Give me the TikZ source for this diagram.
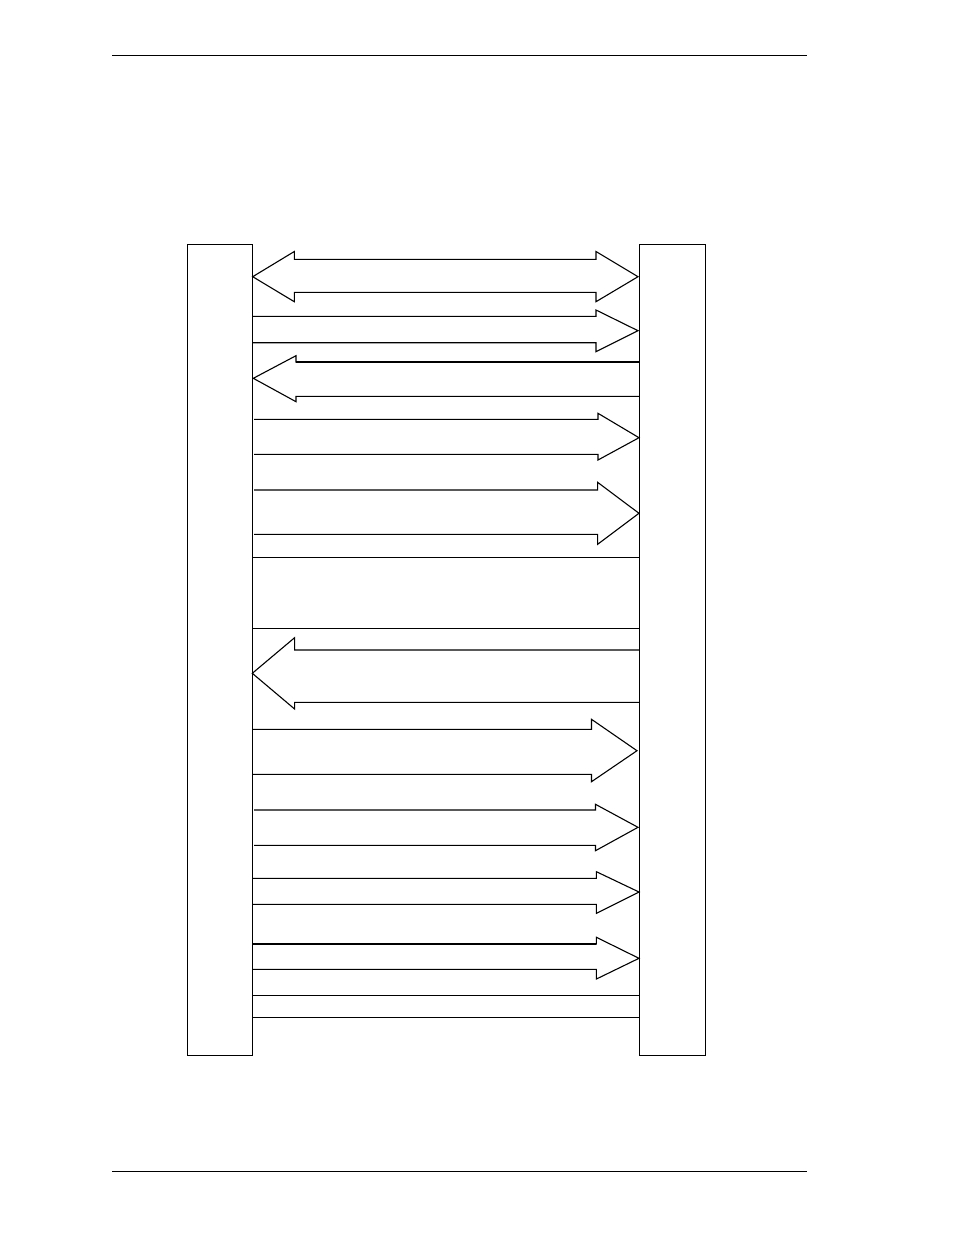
\documentclass[tikz,border=0pt]{standalone}
\begin{document}
\begin{tikzpicture}[x=1pt,y=-1pt,
  thin line/.style={line width=1.1pt, line join=miter},
  heavy line/.style={line width=2pt},
  boxnode/.style={draw, line width=1.1pt, inner sep=0pt, anchor=north west},
  rule/.style={line width=1.3pt}]
\useasboundingbox (0,0) rectangle (954,1235);
% page rules
\coordinate (r1a) at (112,55.3); \coordinate (r1b) at (806.5,55.3);
\coordinate (r2a) at (112,1171.3); \coordinate (r2b) at (806.5,1171.3);
\draw[rule] (r1a) -- (r1b);
\draw[rule] (r2a) -- (r2b);
% boxes
\node[boxnode, minimum width=65.8pt, minimum height=811.8pt] (L) at (186.5,243.5) {};
\node[boxnode, minimum width=66pt, minimum height=811pt] (R) at (639.3,244.3) {};
% macros for arrows
\newcommand\ArrRight[8]{% x0, shaft top, shaft bottom, base, head top, head bottom, tip x, tip y
  \draw[thin line] (#1,#2) -- (#4,#2) -- (#4,#5) -- (#7,#8) -- (#4,#6) -- (#4,#3) -- (#1,#3);}
\newcommand\ArrLeft[8]{% x0, shaft top, shaft bottom, base, head top, head bottom, tip x, tip y
  \draw[thin line] (#1,#2) -- (#4,#2) -- (#4,#5) -- (#7,#8) -- (#4,#6) -- (#4,#3) -- (#1,#3);}
% 1 double arrow
\draw[thin line] (294.3,259.3) -- (596,259.3) -- (596,251.5) -- (638,276.7) -- (596,301.7)
  -- (596,292.3) -- (294.3,292.3) -- (294.3,301.7) -- (252.7,276.7) -- (294.3,251.5) -- cycle;
% 2
\ArrRight{252.3}{316.3}{342.7}{596}{310}{351.7}{638}{330.7}
% 3
\ArrLeft{639.3}{362}{396.3}{296}{355.7}{401.7}{253.3}{378.3}
\draw[heavy line] (296,362) -- (639.3,362);
% 4
\ArrRight{254}{419.3}{454.3}{598}{413.3}{460}{639}{437.7}
% 5
\ArrRight{254}{490}{534.3}{597.6}{482.3}{544.3}{639}{513.3}
% plain lines
\draw[thin line] (252.3,557.5) -- (639.3,557.5);
\draw[thin line] (252.3,628.3) -- (639.3,628.3);
% 7
\ArrLeft{639.3}{650}{702.3}{294.6}{637.7}{709}{252.3}{673.3}
% 8
\ArrRight{252.3}{729.3}{774.3}{591.5}{719.3}{781.7}{637}{750.7}
% 9
\ArrRight{254}{810}{845.3}{595.5}{804.3}{850.7}{638}{827.3}
% 10
\ArrRight{252.3}{878.3}{904.3}{596.4}{871.7}{913.3}{639}{892}
% 11
\ArrRight{252.3}{944}{969.3}{596.4}{937.3}{979}{639}{958.3}
\draw[heavy line] (252.3,944) -- (596.4,944);
% bottom lines
\draw[thin line] (252.3,995.3) -- (639.3,995.3);
\draw[thin line] (252.3,1017.3) -- (639.3,1017.3);
\end{tikzpicture}
\end{document}
